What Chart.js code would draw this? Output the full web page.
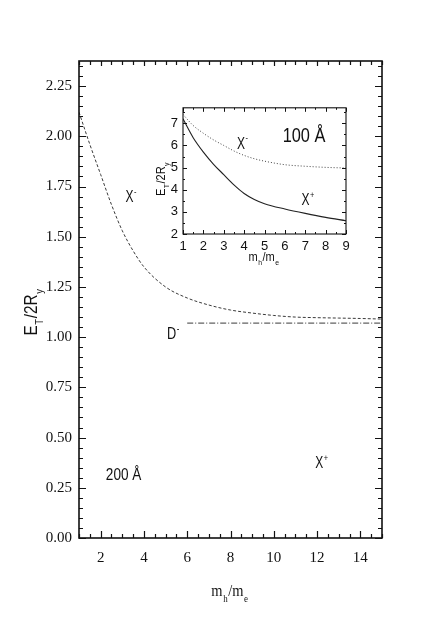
<!DOCTYPE html>
<html><head><meta charset="utf-8">
<script src="https://cdn.jsdelivr.net/npm/chart.js@4.4.1/dist/chart.umd.min.js"></script>
<style>
html,body{margin:0;padding:0;background:#fff;}
#wrap{position:relative;width:436px;height:625px;overflow:hidden;}
#main{position:absolute;left:0;top:0;}
#inset{position:absolute;left:140px;top:95px;}
</style></head><body>
<div id="wrap">
<canvas id="main" width="436" height="625"></canvas>
<canvas id="inset" width="220" height="175"></canvas>
</div>
<script>
// ---------- data ----------
const mainMassRatio = [1, 1.5, 2, 2.5, 3, 3.5, 4, 5, 6, 7, 8, 9, 10, 11, 12, 13, 14, 15];
const mainXminus    = [2.12, 1.96, 1.81, 1.66, 1.53, 1.43, 1.35, 1.25, 1.195, 1.16, 1.135, 1.12, 1.108, 1.10, 1.097, 1.095, 1.093, 1.09];
const mainDminusMass = [6, 15];
const mainDminus     = [1.07, 1.07];

const insetMassRatio = [1, 1.5, 2, 2.5, 3, 3.5, 4, 4.5, 5, 6, 7, 8, 9];
const insetXminus    = [7.4, 6.9, 6.55, 6.25, 6.0, 5.75, 5.55, 5.4, 5.29, 5.13, 5.06, 5.01, 4.98];
const insetXplus     = [7.2, 6.35, 5.7, 5.15, 4.68, 4.22, 3.83, 3.56, 3.37, 3.13, 2.93, 2.75, 2.6];

const mainXTicks  = [2, 4, 6, 8, 10, 12, 14];
const mainYTicks  = [0, 0.25, 0.5, 0.75, 1.0, 1.25, 1.5, 1.75, 2.0, 2.25];
const insetXTicks = [1, 2, 3, 4, 5, 6, 7, 8, 9];
const insetYTicks = [2, 3, 4, 5, 6, 7];

// ---------- helpers ----------
function pts(xs, ys) { return xs.map((x, i) => ({ x: x, y: ys[i] })); }

function richText(ctx, parts, x, y, o) {
  const fam = o.family, size = o.size, sx = o.sx || 1;
  ctx.save();
  ctx.translate(x, y);
  if (o.rotate) ctx.rotate(o.rotate);
  ctx.scale(sx, 1);
  ctx.fillStyle = o.color || '#111';
  ctx.textBaseline = 'alphabetic';
  ctx.textAlign = 'left';
  const items = parts.map(p => {
    const small = p.k === 'sub' || p.k === 'sup';
    const s = small ? size * 0.62 : size;
    ctx.font = s + 'px ' + fam;
    return { t: p.t, s: s, w: ctx.measureText(p.t).width + (small ? size * 0.08 : 0),
             dy: p.k === 'sub' ? size * 0.32 : (p.k === 'sup' ? -size * 0.45 : 0) };
  });
  const total = items.reduce((a, b) => a + b.w, 0);
  let cx = o.align === 'center' ? -total / 2 : 0;
  const baseY = size * 0.36;
  items.forEach(it => {
    ctx.font = it.s + 'px ' + fam;
    ctx.fillText(it.t, cx + (it.s < size ? size * 0.04 : 0), baseY + it.dy);
    cx += it.w;
  });
  ctx.restore();
}

function framePlugin(cfg) {
  return {
    id: 'frameTicks',
    afterDatasetsDraw(chart) {
      const ctx = chart.ctx, a = chart.chartArea;
      const xs = chart.scales.x, ys = chart.scales.y;
      ctx.save();
      ctx.strokeStyle = '#111';
      ctx.lineWidth = cfg.frameWidth;
      ctx.strokeRect(a.left, a.top, a.right - a.left, a.bottom - a.top);
      ctx.lineWidth = cfg.tickWidth;
      ctx.beginPath();
      const nx = Math.floor((xs.max - xs.min) / cfg.xMinor + 1e-6);
      for (let i = 0; i <= nx; i++) {
        const v = xs.min + i * cfg.xMinor;
        const major = Math.abs(v / cfg.xMajor - Math.round(v / cfg.xMajor)) < 1e-6;
        const p = Math.round(xs.getPixelForValue(v)) + 0.5;
        const L = major ? cfg.majorLen : cfg.minorLen;
        ctx.moveTo(p, a.bottom); ctx.lineTo(p, a.bottom - L);
        ctx.moveTo(p, a.top); ctx.lineTo(p, a.top + (major ? cfg.topMajorLen : cfg.topMinorLen));
      }
      const ny = Math.floor((ys.max - ys.min) / cfg.yMinor + 1e-6);
      for (let i = 0; i <= ny; i++) {
        const v = ys.min + i * cfg.yMinor;
        const major = Math.abs(v / cfg.yMajor - Math.round(v / cfg.yMajor)) < 1e-6;
        const p = Math.round(ys.getPixelForValue(v)) + 0.5;
        const L = major ? cfg.majorLen : cfg.minorLen;
        ctx.moveTo(a.left, p); ctx.lineTo(a.left + L, p);
        ctx.moveTo(a.right, p); ctx.lineTo(a.right - L, p);
      }
      ctx.stroke();
      ctx.restore();
    }
  };
}

function labelPlugin(labels, titles) {
  return {
    id: 'labels',
    afterDraw(chart) {
      const ctx = chart.ctx, xs = chart.scales.x, ys = chart.scales.y;
      labels.forEach(l => {
        richText(ctx, l.parts, xs.getPixelForValue(l.x), ys.getPixelForValue(l.y),
          { family: l.family, size: l.size, sx: l.sx, align: 'left' });
      });
      titles.forEach(t => {
        richText(ctx, t.parts, t.px, t.py,
          { family: t.family, size: t.size, sx: t.sx, align: 'center', rotate: t.rotate });
      });
    }
  };
}

const SANS = "'Liberation Sans', Arimo, sans-serif";
const SERIF = "'Liberation Serif', 'Times New Roman', serif";

// ---------- main chart ----------
new Chart(document.getElementById('main'), {
  type: 'line',
  data: {
    datasets: [
      { data: pts(mainMassRatio, mainXminus), borderColor: '#3a3a3a', borderWidth: 1,
        borderDash: [3, 2], pointRadius: 0, cubicInterpolationMode: 'monotone', fill: false },
      { data: pts(mainDminusMass, mainDminus), borderColor: '#3a3a3a', borderWidth: 1,
        borderDash: [6, 2, 1, 2], pointRadius: 0, fill: false }
    ]
  },
  options: {
    responsive: false, animation: false, devicePixelRatio: 1,
    layout: { padding: { left: 0, top: 61, right: 54, bottom: 0 } },
    plugins: { legend: { display: false }, tooltip: { enabled: false } },
    scales: {
      x: {
        type: 'linear', min: 1, max: 15,
        grid: { display: false, drawTicks: false }, border: { display: false },
        ticks: { font: { family: SERIF, size: 15 }, color: '#111', padding: 11,
                 maxRotation: 0, autoSkip: false, callback: v => String(v) },
        afterBuildTicks: s => { s.ticks = mainXTicks.map(v => ({ value: v })); },
        afterFit: s => { s.height = 87; }
      },
      y: {
        type: 'linear', min: 0, max: 2.375,
        grid: { display: false, drawTicks: false }, border: { display: false },
        ticks: { font: { family: SERIF, size: 15 }, color: '#111', padding: 7,
                 autoSkip: false, callback: v => Number(v).toFixed(2) },
        afterBuildTicks: s => { s.ticks = mainYTicks.map(v => ({ value: v })); },
        afterFit: s => { s.width = 79; }
      }
    }
  },
  plugins: [
    framePlugin({ frameWidth: 1.6, tickWidth: 1.2, xMinor: 0.5, xMajor: 2, yMinor: 0.05, yMajor: 0.25,
                  majorLen: 7, minorLen: 4, topMajorLen: 5, topMinorLen: 4 }),
    labelPlugin([
      { x: 3.15, y: 1.70, parts: [{ t: 'X' }, { t: '-', k: 'sup' }], family: SANS, size: 16, sx: 0.75 },
      { x: 5.07, y: 1.02, parts: [{ t: 'D' }, { t: '-', k: 'sup' }], family: SANS, size: 17, sx: 0.75 },
      { x: 2.24, y: 0.32, parts: [{ t: '200 Å' }], family: SANS, size: 17, sx: 0.8 },
      { x: 11.92, y: 0.375, parts: [{ t: 'X' }, { t: '+', k: 'sup' }], family: SANS, size: 16, sx: 0.75 }
    ], [
      { px: 31, py: 312, rotate: -Math.PI / 2, family: SANS, size: 18, sx: 0.85,
        parts: [{ t: 'E' }, { t: 'T', k: 'sub' }, { t: '/2R' }, { t: 'y', k: 'sub' }] },
      { px: 230, py: 590, family: SERIF, size: 17, sx: 0.85,
        parts: [{ t: 'm' }, { t: 'h', k: 'sub' }, { t: '/m' }, { t: 'e', k: 'sub' }] }
    ])
  ]
});

// ---------- inset chart ----------
new Chart(document.getElementById('inset'), {
  type: 'line',
  data: {
    datasets: [
      { data: pts(insetMassRatio, insetXminus), borderColor: '#444', borderWidth: 1,
        borderDash: [1, 2], pointRadius: 0, cubicInterpolationMode: 'monotone', fill: false },
      { data: pts(insetMassRatio, insetXplus), borderColor: '#222', borderWidth: 1.1,
        pointRadius: 0, cubicInterpolationMode: 'monotone', fill: false }
    ]
  },
  options: {
    responsive: false, animation: false, devicePixelRatio: 1,
    layout: { padding: { left: 0, top: 9, right: 14, bottom: 0 } },
    plugins: { legend: { display: false }, tooltip: { enabled: false } },
    scales: {
      x: {
        type: 'linear', min: 1, max: 9,
        grid: { display: false, drawTicks: false }, border: { display: false },
        ticks: { font: { family: SANS, size: 13 }, color: '#111', padding: 5,
                 maxRotation: 0, autoSkip: false, callback: v => String(v) },
        afterBuildTicks: s => { s.ticks = insetXTicks.map(v => ({ value: v })); },
        afterFit: s => { s.height = 36; }
      },
      y: {
        type: 'linear', min: 2, max: 7.7,
        grid: { display: false, drawTicks: false }, border: { display: false },
        ticks: { font: { family: SANS, size: 13 }, color: '#111', padding: 5,
                 autoSkip: false, callback: v => String(v) },
        afterBuildTicks: s => { s.ticks = insetYTicks.map(v => ({ value: v })); },
        afterFit: s => { s.width = 43; }
      }
    }
  },
  plugins: [
    framePlugin({ frameWidth: 1.1, tickWidth: 1, xMinor: 0.5, xMajor: 1, yMinor: 0.5, yMajor: 1,
                  majorLen: 4, minorLen: 2, topMajorLen: 4, topMinorLen: 2 }),
    labelPlugin([
      { x: 3.65, y: 6.12, parts: [{ t: 'X' }, { t: '-', k: 'sup' }], family: SANS, size: 16, sx: 0.75 },
      { x: 5.89, y: 6.48, parts: [{ t: '100 Å' }], family: SANS, size: 21, sx: 0.78 },
      { x: 6.82, y: 3.55, parts: [{ t: 'X' }, { t: '+', k: 'sup' }], family: SANS, size: 16, sx: 0.75 }
    ], [
      { px: 20, py: 84, rotate: -Math.PI / 2, family: SANS, size: 13, sx: 0.85,
        parts: [{ t: 'E' }, { t: 'T', k: 'sub' }, { t: '/2R' }, { t: 'y', k: 'sub' }] },
      { px: 124, py: 161, family: SANS, size: 13, sx: 0.85,
        parts: [{ t: 'm' }, { t: 'h', k: 'sub' }, { t: '/m' }, { t: 'e', k: 'sub' }] }
    ])
  ]
});
</script>
</body></html>
